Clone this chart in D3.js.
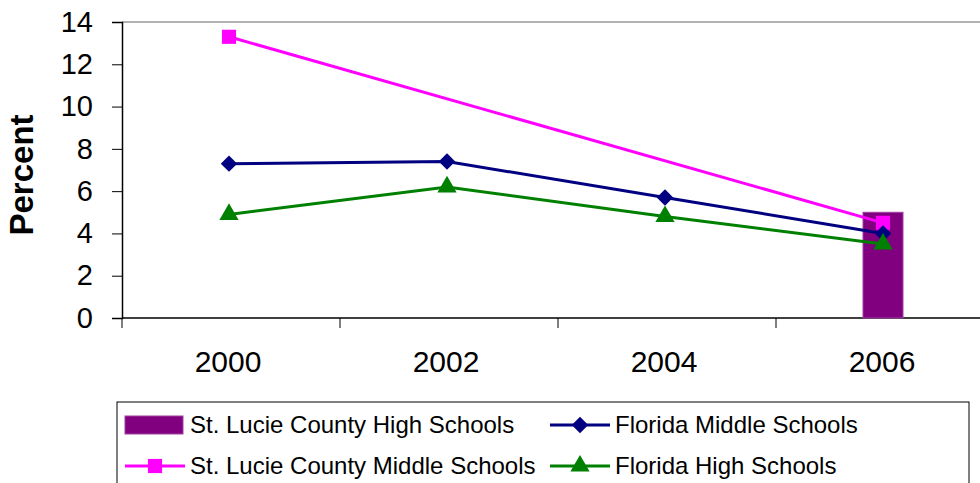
<!DOCTYPE html>
<html>
<head>
<meta charset="utf-8">
<script src="https://cdn.jsdelivr.net/npm/d3@7"></script>
<style>
  body { margin: 0; background: #fff; }
  svg { display: block; font-family: "Liberation Sans", Arial, sans-serif; }
</style>
</head>
<body>
<svg id="chart" width="980" height="483"></svg>
<script>
// Data
const years = ["2000", "2002", "2004", "2006"];
const stLucieHigh = [null, null, null, 5.0];
const stLucieMiddle = [13.3, null, null, 4.5];
const floridaMiddle = [7.3, 7.4, 5.7, 4.0];
const floridaHigh = [4.9, 6.2, 4.8, 3.5];
const yTicks = [0, 2, 4, 6, 8, 10, 12, 14];

const svg = d3.select("#chart");
const plotLeft = 122, plotTop = 22, plotBottom = 318, band = 218;

const x = d3.scaleBand()
    .domain(years)
    .range([plotLeft, plotLeft + band * years.length]);

const y = d3.scaleLinear()
    .domain([0, 14])
    .range([plotBottom, plotTop]);

// plot border (top, gray)
svg.append("line")
    .attr("x1", plotLeft).attr("x2", 980)
    .attr("y1", plotTop).attr("y2", plotTop)
    .attr("stroke", "#999").attr("stroke-width", 1.5);

// Y axis
const yAxis = svg.append("g")
    .attr("transform", `translate(${plotLeft},0)`)
    .call(d3.axisLeft(y).tickValues(yTicks).tickSize(10).tickPadding(19));
yAxis.select(".domain").attr("stroke", "#000").attr("stroke-width", 1.5);
yAxis.selectAll(".tick line").attr("stroke", "#000");
yAxis.selectAll("text")
    .attr("font-size", 29)
    .attr("fill", "#000")
    .attr("font-family", "Liberation Sans, Arial, sans-serif");

// X axis
const xAxis = svg.append("g")
    .attr("transform", `translate(-3,${plotBottom})`)
    .call(d3.axisBottom(x).tickSize(0).tickPadding(33));
xAxis.select(".domain").remove();
xAxis.selectAll("text")
    .attr("font-size", 30)
    .attr("fill", "#000")
    .attr("font-family", "Liberation Sans, Arial, sans-serif");

svg.append("line")
    .attr("x1", plotLeft).attr("x2", 980)
    .attr("y1", plotBottom).attr("y2", plotBottom)
    .attr("stroke", "#000").attr("stroke-width", 1.5);

svg.append("g")
    .selectAll("line")
    .data(years)
    .join("line")
    .attr("x1", d => x(d)).attr("x2", d => x(d))
    .attr("y1", plotBottom).attr("y2", plotBottom + 10)
    .attr("stroke", "#000");

// Y label
svg.append("text")
    .attr("transform", `translate(33,175) rotate(-90)`)
    .attr("text-anchor", "middle")
    .attr("font-size", 33)
    .attr("font-weight", "bold")
    .text("Percent");

// bar series
const barW = 40;
svg.append("g")
    .selectAll("rect")
    .data(years.map((d, i) => ({ year: d, v: stLucieHigh[i] })).filter(d => d.v != null))
    .join("rect")
    .attr("x", d => x(d.year) + x.bandwidth() / 2 - barW / 2 - 2)
    .attr("y", d => y(d.v))
    .attr("width", barW)
    .attr("height", d => y(0) - y(d.v))
    .attr("fill", "#800080")
    .attr("stroke", "#a040a0")
    .attr("stroke-width", 1);

const cx = d => x(d) + x.bandwidth() / 2 - 2;

// marker shapes; diamond is a square turned 45 degrees
const markers = {
    square: { type: d3.symbolSquare, size: 200, rot: 0 },
    diamond: { type: d3.symbolSquare, size: 135, rot: 45 },
    triangle: { type: d3.symbolTriangle, size: 160, rot: 0 }
};

function lineSeries(values, color, m) {
    const pts = years.map((d, i) => ({ year: d, v: values[i] })).filter(d => d.v != null);
    svg.append("path")
        .datum(pts)
        .attr("fill", "none")
        .attr("stroke", color)
        .attr("stroke-width", 3)
        .attr("d", d3.line().x(d => cx(d.year)).y(d => y(d.v)));
    svg.append("g")
        .selectAll("path")
        .data(pts)
        .join("path")
        .attr("transform", d => `translate(${cx(d.year)},${y(d.v)}) rotate(${m.rot})`)
        .attr("d", d3.symbol().type(m.type).size(m.size))
        .attr("fill", color);
}

lineSeries(stLucieMiddle, "#ff00ff", markers.square);
lineSeries(floridaMiddle, "#000080", markers.diamond);
lineSeries(floridaHigh, "#008000", markers.triangle);

// Legend
const legend = svg.append("g");
legend.append("rect")
    .attr("x", 117).attr("y", 402)
    .attr("width", 852).attr("height", 100)
    .attr("fill", "#fff")
    .attr("stroke", "#000").attr("stroke-width", 1);

const legendItems = [
    { name: "St. Lucie County High Schools", kind: "bar", color: "#800080", lx: 125, ly: 425 },
    { name: "Florida Middle Schools", kind: "line", color: "#000080", m: markers.diamond, lx: 550, ly: 425 },
    { name: "St. Lucie County Middle Schools", kind: "line", color: "#ff00ff", m: markers.square, lx: 125, ly: 466 },
    { name: "Florida High Schools", kind: "line", color: "#008000", m: markers.triangle, lx: 550, ly: 466 }
];

legendItems.forEach(it => {
    if (it.kind === "bar") {
        legend.append("rect")
            .attr("x", it.lx).attr("y", it.ly - 9)
            .attr("width", 58).attr("height", 18)
            .attr("fill", it.color)
            .attr("stroke", "#a040a0");
    } else {
        legend.append("line")
            .attr("x1", it.lx).attr("x2", it.lx + 60)
            .attr("y1", it.ly).attr("y2", it.ly)
            .attr("stroke", it.color).attr("stroke-width", 3);
        legend.append("path")
            .attr("transform", `translate(${it.lx + 30},${it.ly}) rotate(${it.m.rot})`)
            .attr("d", d3.symbol().type(it.m.type).size(it.m.size))
            .attr("fill", it.color);
    }
    legend.append("text")
        .attr("x", it.lx + 65)
        .attr("y", it.ly)
        .attr("dy", "0.35em")
        .attr("font-size", 24)
        .text(it.name);
});
</script>
</body>
</html>
